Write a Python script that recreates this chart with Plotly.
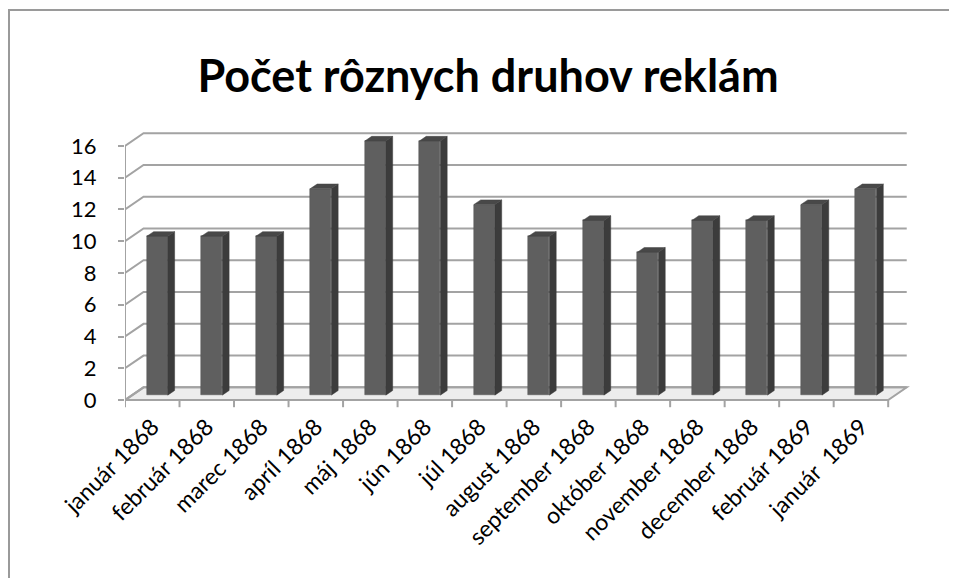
import plotly.graph_objects as go

# ---- data ----
categories = ["január 1868", "február 1868", "marec 1868", "apríl 1868", "máj 1868",
              "jún 1868", "júl 1868", "august 1868", "september 1868", "október 1868",
              "november 1868", "december 1868", "február 1869", "január  1869"]
values = [10, 10, 10, 13, 16, 16, 12, 10, 11, 9, 11, 11, 12, 13]
y_ticks = [0, 2, 4, 6, 8, 10, 12, 14, 16]
title_text = "Počet rôznych druhov reklám"

# ---- 3D look parameters (style only) ----
DX, DY = 0.34, 0.80          # wall depth offset
BX0, BW = -0.10, 0.385       # bar front-face offset/width
BDY = 0.31                   # bar base lift (mid depth)
SX, SY = 0.125, 0.29         # bar side/top depth
n = len(categories)
idx = list(range(n))
x_left, x_right = -0.5, n - 0.5

FONT = "Lato"
GRID = "#a3a3a3"

# figure size and plot-area geometry in pixels (page adds an 8px offset)
FW, FH = 957, 578
L, R, T, B = 117, 55, 122, 178
W, H = FW - L - R, FH - T - B

fig = go.Figure()

# front faces
fig.add_trace(go.Bar(x=idx, y=values, base=BDY, offset=BX0, width=BW,
                     marker=dict(color="#5f5f5f", line=dict(color="#555555", width=0.5)),
                     hoverinfo="skip", showlegend=False))

# side and top faces
sx, sy, tx, ty = [], [], [], []
for i, v in zip(idx, values):
    xl = i + BX0
    xr = xl + BW
    sx += [xr, xr + SX, xr + SX, xr, xr, None]
    sy += [BDY, BDY + SY, v + BDY + SY, v + BDY, BDY, None]
    tx += [xl, xr, xr + SX, xl + SX, xl, None]
    ty += [v + BDY, v + BDY, v + BDY + SY, v + BDY + SY, v + BDY, None]
fig.add_trace(go.Scatter(x=sx, y=sy, mode="lines", fill="toself", fillcolor="#3c3c3c",
                         line=dict(color="#3a3a3a", width=0.5), hoverinfo="skip", showlegend=False))
fig.add_trace(go.Scatter(x=tx, y=ty, mode="lines", fill="toself", fillcolor="#484848",
                         line=dict(color="#444444", width=0.5), hoverinfo="skip", showlegend=False))

shapes = []
# floor
shapes.append(dict(type="path", xref="x", yref="y", layer="below",
                   path=f"M{x_left},0 L{x_right},0 L{x_right+DX},{DY} L{x_left+DX},{DY} Z",
                   fillcolor="#ededed", line=dict(color=GRID, width=2)))
# back wall gridlines and left wall diagonals
for v in y_ticks:
    shapes.append(dict(type="path", xref="x", yref="y", layer="below",
                       path=f"M{x_left},{v} L{x_left+DX},{v+DY} L{x_right+DX},{v+DY}",
                       line=dict(color=GRID, width=2)))
# front-left vertical axis line
shapes.append(dict(type="line", xref="x", yref="y", layer="below",
                   x0=x_left, y0=0, x1=x_left, y1=max(y_ticks), line=dict(color=GRID, width=2)))
# category boundary tick marks
for k in range(n + 1):
    b = k - 0.5
    shapes.append(dict(type="line", xref="x", yref="y", layer="below",
                       x0=b, y0=0, x1=b, y1=-0.45, line=dict(color=GRID, width=2)))
# chart border (left and top edges; the rest runs off the page)
bx0, by_top = (1 - L) / W, (T + H - 2) / H
bx1, by_bot = (FW + 40 - L) / W, (T + H - FH - 40) / H
shapes.append(dict(type="path", xref="paper", yref="paper",
                   path=f"M{bx0},{by_bot} L{bx0},{by_top} L{bx1},{by_top}",
                   line=dict(color="#9a9a9a", width=2)))

fig.update_layout(
    width=FW, height=FH,
    margin=dict(l=L, r=R, t=T, b=B, autoexpand=False),
    paper_bgcolor="white", plot_bgcolor="rgba(0,0,0,0)",
    shapes=shapes,
    title=dict(text=title_text, xref="container", yref="container",
               x=480 / FW, y=1 - 68 / FH, xanchor="center", yanchor="middle",
               font=dict(family=FONT, size=45, color="black", weight="bold")),
    xaxis=dict(range=[x_left, x_right + 0.4], tickmode="array", tickvals=idx, ticktext=categories,
               tickangle=-45, ticks="", showgrid=False, zeroline=False, showline=False,
               automargin=False,
               tickfont=dict(family=FONT, size=23, color="black")),
    yaxis=dict(range=[-0.5, 17], tickmode="array", tickvals=y_ticks,
               ticks="outside", ticklen=6, tickwidth=2, tickcolor=GRID,
               ticklabelstandoff=17, automargin=False,
               showgrid=False, zeroline=False, showline=False,
               tickfont=dict(family=FONT, size=22, color="black")),
    bargap=0, showlegend=False,
)

fig.write_html("out.html")
